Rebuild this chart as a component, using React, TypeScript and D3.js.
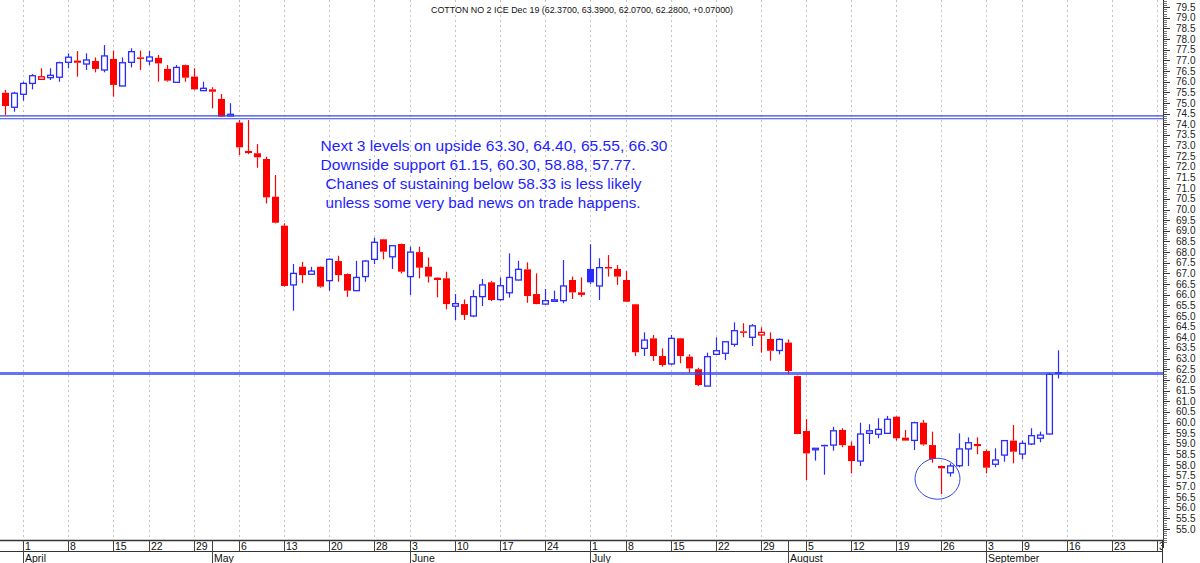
import React from "react";
import * as d3 from "d3";

// trading calendar (ICE cotton, 2019)
const firstDay = "2019-03-28";
const lastDay = "2019-09-30";
const holidays = ["2019-04-19", "2019-05-27", "2019-07-04", "2019-09-02"];

// daily OHLC, one entry per trading day from 28 Mar 2019
const open = [
  75.48, 74.80, 75.41, 75.92, 76.11, 76.19, 76.21, 76.91, 76.99, 76.83,
  76.97, 76.55, 77.07, 75.80, 76.91, 77.14, 76.97, 77.12, 76.60, 75.97,
  76.78, 76.24, 75.58, 75.64, 75.19, 74.39, 74.08, 72.75, 72.64, 72.37,
  70.60, 69.24, 66.46, 67.31, 66.96, 67.31, 66.66, 67.58, 66.97, 66.19,
  66.85, 67.66, 68.60, 67.78, 68.38, 66.85, 68.00, 67.31, 66.80, 66.77,
  65.46, 65.56, 65.00, 65.91, 66.58, 65.77, 66.09, 66.69, 67.19, 66.03,
  65.56, 65.74, 65.72, 66.69, 66.11, 67.21, 66.41, 67.30, 67.21, 66.69,
  65.55, 63.48, 63.95, 63.12, 62.75, 63.95, 63.09, 62.50, 61.71, 63.20,
  63.25, 63.67, 64.28, 64.00, 64.11, 63.92, 63.38, 63.75, 62.18, 59.60,
  58.75, 58.95, 58.94, 59.65, 58.91, 58.19, 59.49, 59.45, 59.49, 60.27,
  59.29, 59.16, 59.99, 58.94, 57.96, 57.64, 57.97, 58.76, 58.99, 58.66,
  58.04, 58.47, 59.15, 58.52, 58.99, 59.26, 59.46, 62.37,
];
const high = [
  75.61, 75.53, 76.00, 76.36, 76.63, 76.63, 76.94, 77.33, 77.44, 77.33,
  77.14, 77.72, 77.46, 77.14, 77.57, 77.46, 77.44, 77.25, 76.78, 76.78,
  76.80, 76.63, 76.00, 75.74, 75.42, 74.99, 74.20, 74.20, 73.07, 72.48,
  71.62, 69.35, 67.44, 67.54, 67.31, 67.33, 67.70, 67.83, 67.00, 67.59,
  67.63, 68.68, 68.62, 68.32, 68.40, 68.25, 68.25, 67.75, 66.82, 67.08,
  66.03, 65.78, 66.22, 66.74, 66.65, 66.81, 67.94, 67.59, 67.52, 67.00,
  66.27, 66.19, 67.63, 66.85, 66.81, 68.37, 67.71, 67.86, 67.39, 67.11,
  65.57, 64.23, 64.11, 63.48, 64.11, 63.97, 63.20, 62.57, 63.28, 64.00,
  63.81, 64.70, 64.66, 64.62, 64.47, 64.23, 63.95, 63.90, 62.20, 60.16,
  58.80, 58.96, 59.80, 59.73, 59.10, 59.99, 59.92, 60.20, 60.31, 60.31,
  59.65, 60.04, 60.12, 59.57, 57.97, 58.08, 59.49, 59.30, 59.30, 58.74,
  58.79, 59.16, 59.88, 59.15, 59.73, 59.57, 62.34, 63.39,
];
const low = [
  74.44, 74.59, 75.11, 75.64, 76.10, 76.08, 76.00, 76.63, 76.24, 76.55,
  76.44, 76.44, 75.30, 75.78, 76.67, 76.55, 76.78, 76.00, 76.00, 75.95,
  76.00, 75.61, 75.56, 74.75, 74.34, 74.37, 72.56, 72.60, 71.96, 70.28,
  69.35, 66.38, 65.25, 66.54, 66.94, 66.33, 66.19, 66.61, 65.90, 66.17,
  66.61, 67.44, 67.66, 67.21, 67.00, 65.99, 66.77, 66.57, 65.88, 65.31,
  64.81, 64.81, 64.94, 65.47, 65.70, 65.72, 65.86, 66.67, 65.62, 65.55,
  65.52, 65.70, 65.60, 65.80, 65.90, 66.49, 65.75, 66.85, 66.46, 65.65,
  63.12, 63.12, 62.89, 62.62, 62.70, 62.78, 62.34, 61.71, 61.70, 63.17,
  62.93, 63.56, 64.00, 63.59, 63.28, 62.90, 63.20, 62.28, 59.45, 57.30,
  58.21, 57.55, 58.68, 58.84, 57.61, 57.96, 58.99, 59.26, 59.48, 59.15,
  59.14, 58.71, 58.91, 58.11, 56.64, 57.46, 57.90, 57.96, 58.51, 57.61,
  57.90, 58.16, 58.08, 58.27, 58.94, 59.07, 59.44, 62.07,
];
const close = [
  74.86, 75.46, 75.92, 76.28, 76.23, 76.30, 76.89, 77.15, 76.89, 77.02,
  76.60, 77.21, 75.85, 76.89, 77.41, 77.07, 77.16, 76.86, 76.05, 76.67,
  76.19, 75.64, 75.69, 75.53, 74.36, 74.47, 72.92, 72.65, 72.45, 70.57,
  69.38, 66.41, 67.00, 66.92, 67.11, 66.38, 67.66, 66.92, 66.19, 66.81,
  67.58, 68.46, 68.02, 68.30, 67.08, 68.00, 67.27, 66.85, 66.69, 65.56,
  65.58, 65.05, 65.91, 66.46, 65.75, 66.42, 66.81, 67.19, 65.94, 65.56,
  65.72, 65.76, 66.41, 66.11, 65.99, 66.58, 67.27, 67.25, 66.85, 65.67,
  63.30, 63.87, 63.12, 62.70, 63.95, 63.12, 62.54, 61.76, 63.09, 63.37,
  63.79, 64.31, 64.24, 64.54, 64.23, 63.37, 63.90, 62.42, 59.46, 58.55,
  58.79, 58.90, 59.61, 58.94, 58.19, 59.46, 59.61, 59.68, 60.15, 59.26,
  59.15, 59.99, 58.97, 58.29, 57.85, 57.96, 58.76, 59.05, 58.89, 57.88,
  58.24, 59.15, 58.63, 59.02, 59.38, 59.41, 62.26, 62.28,
];

// drawn levels and annotations
const levelLines = [74.40, 74.26, 62.33, 62.27];
const circleDay = "2019-08-26";
const circlePrice = 57.36;
const title = "COTTON NO 2 ICE Dec 19 (62.3700, 63.3900, 62.0700, 62.2800, +0.07000)";
const noteLines = [
  "Next 3 levels on upside 63.30, 64.40, 65.55, 66.30",
  "Downside support 61.15, 60.30, 58.88, 57.77.",
  "Chanes of sustaining below 58.33 is less likely",
  "unless some very bad news on trade happens.",
];
const monthNames = ["January", "February", "March", "April", "May", "June", "July",
  "August", "September", "October", "November", "December"];

const RED = "#ff0000";
const BLUE = "#2a2aff";
const LINE_BLUE = "#3446ee";
const FONT = "'Liberation Sans', Arial, sans-serif";

const plotRight = 1163;
const plotBottom = 540;

const fmt = d3.timeFormat("%Y-%m-%d");

const App = () => {
  const days = d3.timeDay
    .range(new Date(firstDay + "T00:00:00"), d3.timeDay.offset(new Date(lastDay + "T00:00:00"), 1))
    .filter((d) => d.getDay() !== 0 && d.getDay() !== 6 && !holidays.includes(fmt(d)));
  const keys = days.map(fmt);

  const x = d3.scalePoint<string>().domain(keys).range([5, 1157]);
  const y = d3.scaleLinear().domain([55, 79.5]).range([529, 7.15]);

  const weekStarts = days.filter((d, i) => i > 0 &&
    (d.getDay() <= days[i - 1].getDay() || +d - +days[i - 1] >= 7 * 864e5));
  const monthStarts = days.filter((d, i) => i > 0 && d.getMonth() !== days[i - 1].getMonth());

  const majorTicks = d3.range(55, 79.51, 0.5);
  const minorTicks = d3.range(54.4, 79.85, 0.1);

  const candles = open.map((o, i) => {
    const c = close[i];
    const prev = i > 0 ? close[i - 1] : o;
    return {
      cx: x(keys[i]) as number,
      o, c, h: high[i], l: low[i],
      color: c > prev ? BLUE : RED,
      filled: c < o,
    };
  });

  return (
    <svg width={1200} height={563} style={{ position: "absolute", left: 0, top: 0 }} fontFamily={FONT}>
      <defs>
        <clipPath id="plot"><rect x={0} y={0} width={plotRight} height={plotBottom} /></clipPath>
        <clipPath id="xaxis"><rect x={0} y={plotBottom} width={plotRight - 1} height={30} /></clipPath>
      </defs>
      <rect width={1200} height={563} fill="#fff" />

      {/* dotted week grid */}
      <g clipPath="url(#plot)">
        {weekStarts.map((d) => (
          <line key={fmt(d)} x1={(x(fmt(d)) as number) + 0.5} x2={(x(fmt(d)) as number) + 0.5}
            y1={0} y2={plotBottom} stroke="#c4c4c4" strokeDasharray="2,3" />
        ))}
      </g>

      {/* candles */}
      <g clipPath="url(#plot)">
        {candles.map((k, i) => {
          const top = y(Math.max(k.o, k.c));
          const bot = y(Math.min(k.o, k.c));
          const bh = Math.max(bot - top, 1.5);
          const wx = k.cx + 0.5;
          return (
            <g key={i}>
              <line x1={wx} x2={wx} y1={y(k.h)} y2={top} stroke={k.color} strokeWidth={1.2} />
              <line x1={wx} x2={wx} y1={top + bh} y2={y(k.l)} stroke={k.color} strokeWidth={1.2} />
              {k.filled ? (
                <rect x={k.cx - 3} y={top} width={7} height={bh} fill={k.color} />
              ) : (
                <rect x={k.cx - 2.4} y={top} width={5.8} height={Math.max(bh, 1.2)}
                  fill="#fff" stroke={k.color} strokeWidth={1.3} />
              )}
            </g>
          );
        })}
      </g>

      {/* level lines */}
      {levelLines.map((v, i) => (
        <line key={i} x1={0} x2={plotRight} y1={y(v)} y2={y(v)} stroke={LINE_BLUE} strokeWidth={1.2} />
      ))}

      {/* circle */}
      <ellipse cx={(x(circleDay) as number) - 3.5} cy={y(circlePrice)} rx={22.5} ry={20.5}
        fill="none" stroke={LINE_BLUE} strokeWidth={1} />

      {/* title */}
      <text x={582} y={12.5} fontSize={9} textAnchor="middle" fill="#111"
        textLength={302} lengthAdjust="spacingAndGlyphs">{title}</text>

      {/* note */}
      {noteLines.map((t, i) => (
        <text key={i} x={i < 2 ? 320.5 : 325.5} y={151 + i * 19} fontSize={15.5} fill="#1e1eff"
          textLength={[347, 315, 316, 315][i]} lengthAdjust="spacingAndGlyphs">{t}</text>
      ))}

      {/* right axis */}
      <line x1={plotRight + 0.5} x2={plotRight + 0.5} y1={0} y2={548} stroke="#333" />
      {minorTicks.map((v, i) => (
        <line key={i} x1={plotRight} x2={plotRight + 4} y1={Math.round(y(v)) + 0.5} y2={Math.round(y(v)) + 0.5}
          stroke="#555" strokeWidth={0.8} />
      ))}
      {majorTicks.map((v) => (
        <g key={v}>
          <line x1={plotRight} x2={plotRight + 7} y1={Math.round(y(v)) + 0.5} y2={Math.round(y(v)) + 0.5} stroke="#333" />
          <text x={1176} y={y(v)} dy="0.35em" fontSize={10} fill="#222">{v.toFixed(1)}</text>
        </g>
      ))}

      {/* bottom axis */}
      <line x1={0} x2={plotRight} y1={plotBottom + 0.5} y2={plotBottom + 0.5} stroke="#333" strokeWidth={1.5} />
      <line x1={0} x2={plotRight} y1={551.5} y2={551.5} stroke="#333" />
      <g clipPath="url(#xaxis)">
        {weekStarts.map((d) => {
          const px = (x(fmt(d)) as number) + 0.5;
          return (
            <g key={fmt(d)}>
              <line x1={px} x2={px} y1={plotBottom} y2={551} stroke="#444" />
              <text x={px + 1.5} y={549.5} fontSize={10.5} fill="#111">{d.getDate()}</text>
            </g>
          );
        })}
        {monthStarts.map((d) => {
          const px = (x(fmt(d)) as number) + 0.5;
          return (
            <g key={fmt(d)}>
              <line x1={px} x2={px} y1={plotBottom} y2={563} stroke="#444" />
              <text x={px + 1.5} y={561.5} fontSize={10.5} fill="#111">{monthNames[d.getMonth()]}</text>
            </g>
          );
        })}
      </g>
      <line x1={plotRight - 0.5} x2={plotRight - 0.5} y1={plotBottom} y2={563} stroke="#333" />
    </svg>
  );
};

export default App;
